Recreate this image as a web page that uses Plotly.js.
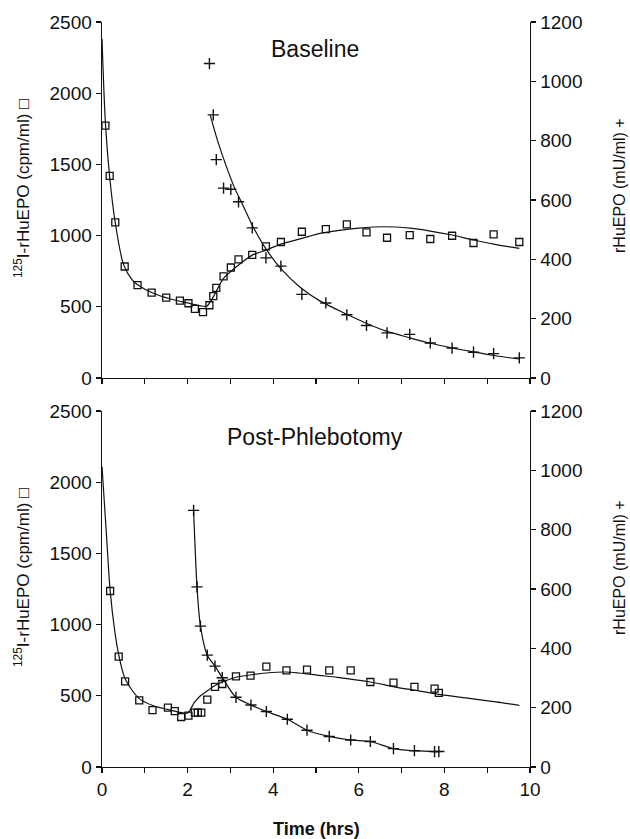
<!DOCTYPE html>
<html>
<head>
<meta charset="utf-8">
<script src="https://cdn.plot.ly/plotly-3.0.1.min.js"></script>
<style>html,body{margin:0;padding:0;background:#fff}#chart{width:630px;height:839px}</style>
</head>
<body>
<div id="chart"></div>
<script>
// ---------- Baseline panel ----------
const topSqT = [0.08,0.18,0.31,0.53,0.83,1.16,1.5,1.82,2.02,2.17,2.36,2.51,2.6,2.67,2.84,3.01,3.19,3.51,3.83,4.18,4.67,5.23,5.72,6.18,6.66,7.19,7.67,8.18,8.68,9.15,9.75];
const topSqV = [1772,1419,1093,783,652,600,565,544,525,485,462,511,575,633,713,776,833,865,924,955,1027,1046,1079,1023,985,1004,976,999,948,1009,955];
const topCrT = [2.51,2.6,2.67,2.84,3.01,3.19,3.51,3.83,4.18,4.67,5.23,5.72,6.18,6.66,7.19,7.67,8.18,8.68,9.15,9.75];
const topCrV = [1060,887,736,640,636,594,506,405,377,282,253,213,177,152,147,118,101,87,82,68];
const topSqFitT = [0,0.08,0.18,0.31,0.5,0.7,0.83,1.2,1.6,2.0,2.3,2.45,2.6,2.84,3.19,3.51,3.83,4.18,4.67,5.09,5.5,6.0,6.57,7.2,7.67,8.18,8.68,9.15,9.75];
const topSqFitV = [2380,1790,1410,1090,800,690,655,595,555,527,507,505,570,699,793,863,898,940,980,1016,1035,1052,1062,1052,1032,1004,969,940,910];
const topCrFitT = [2.53,2.7,2.9,3.1,3.3,3.51,3.83,4.2,4.62,5.09,5.72,6.2,6.66,7.2,7.67,8.2,8.68,9.2,9.75];
const topCrFitV = [885,800,715,640,580,515,435,365,307,260,215,183,157,135,117,101,88,75,64];

// ---------- Post-Phlebotomy panel ----------
const botSqT = [0.19,0.39,0.54,0.87,1.18,1.54,1.7,1.85,2.02,2.17,2.24,2.32,2.46,2.64,2.81,3.13,3.47,3.84,4.31,4.79,5.31,5.81,6.27,6.81,7.3,7.77,7.87];
const botSqV = [1236,775,602,468,400,417,393,351,361,382,382,382,473,562,583,637,642,705,679,684,679,679,597,593,562,550,520];
const botCrT = [2.14,2.22,2.3,2.46,2.64,2.81,3.13,3.48,3.84,4.33,4.79,5.31,5.81,6.27,6.81,7.3,7.77,7.87];
const botCrV = [865,607,475,377,340,301,235,209,187,161,124,103,91,86,62,55,52,52];
const botSqFitT = [0,0.1,0.19,0.3,0.39,0.54,0.87,1.2,1.6,2.0,2.15,2.3,2.46,2.64,2.81,3.13,3.5,3.84,4.3,4.6,5.06,5.5,6.27,6.8,7.3,7.87,8.5,9.2,9.75];
const botSqFitV = [2110,1650,1240,950,790,620,480,430,400,380,450,500,535,572,597,630,648,660,667,660,644,630,597,565,539,510,485,458,433];

// ---------- Axis ticks ----------
const timeMajor = [0,2,4,6,8,10];
const timeLabels = ['0','2','4','6','8','10'];
const leftTicks = [0,500,1000,1500,2000,2500];
const rightTicks = [0,200,400,600,800,1000,1200];

const FONT = 'Liberation Sans, Arial, sans-serif';
const sqMarker = {symbol:'square-open', size:7, color:'#111', line:{width:1.3, color:'#111'}};
const crMarker = {symbol:'cross-thin-open', size:8, color:'#111', line:{width:1.4, color:'#111'}};
const fitLine = {color:'#111', width:1.2, shape:'spline', smoothing:0.8};

const traces = [
  {x:topSqFitT, y:topSqFitV, xaxis:'x', yaxis:'y', mode:'lines', line:fitLine, hoverinfo:'skip'},
  {x:topCrFitT, y:topCrFitV, xaxis:'x', yaxis:'y2', mode:'lines', line:fitLine, hoverinfo:'skip'},
  {x:topSqT, y:topSqV, xaxis:'x', yaxis:'y', mode:'markers', marker:sqMarker, name:'125I-rHuEPO'},
  {x:topCrT, y:topCrV, xaxis:'x', yaxis:'y2', mode:'markers', marker:crMarker, name:'rHuEPO'},
  {x:botSqFitT, y:botSqFitV, xaxis:'x2', yaxis:'y3', mode:'lines', line:fitLine, hoverinfo:'skip'},
  {x:botSqT, y:botSqV, xaxis:'x2', yaxis:'y3', mode:'markers', marker:sqMarker, name:'125I-rHuEPO'},
  {x:botCrT, y:botCrV, xaxis:'x2', yaxis:'y4', mode:'lines+markers', line:fitLine, marker:crMarker, name:'rHuEPO'}
];

const W=630, H=839;
const px = v => v/W, py = v => 1 - v/H;
const xDom = [102/W, 530/W];
const topDom = [1-378/H, 1-22/H];
const botDom = [1-767/H, 1-411/H];

const tickFont = {family:FONT, size:19, color:'#111'};
const baseAx = {showgrid:false, zeroline:false, showline:true, linecolor:'#111', linewidth:1.4,
  ticks:'outside', ticklen:5, tickwidth:1.2, tickcolor:'#111', tickfont:tickFont};
const minorTicks = {ticks:'outside', dtick:1, tick0:0, ticklen:5, tickwidth:1.2, tickcolor:'#111', showgrid:false};

const layout = {
  width:W, height:H, margin:{l:0,r:0,t:0,b:0}, showlegend:false,
  paper_bgcolor:'#fff', plot_bgcolor:'#fff',
  xaxis: Object.assign({}, baseAx, {domain:xDom, anchor:'y', range:[0,10], tickmode:'array', tickvals:timeMajor, showticklabels:false, minor:minorTicks}),
  yaxis: Object.assign({}, baseAx, {domain:topDom, anchor:'x', range:[0,2500], tickmode:'array', tickvals:leftTicks}),
  yaxis2: Object.assign({}, baseAx, {overlaying:'y', anchor:'x', side:'right', range:[0,1200], tickmode:'array', tickvals:rightTicks}),
  xaxis2: Object.assign({}, baseAx, {domain:xDom, anchor:'y3', range:[0,10], tickmode:'array', tickvals:timeMajor, ticktext:timeLabels, minor:minorTicks}),
  yaxis3: Object.assign({}, baseAx, {domain:botDom, anchor:'x2', range:[0,2500], tickmode:'array', tickvals:leftTicks}),
  yaxis4: Object.assign({}, baseAx, {overlaying:'y3', anchor:'x2', side:'right', range:[0,1200], tickmode:'array', tickvals:rightTicks}),
  annotations: [
    {text:'Baseline', xref:'paper', yref:'paper', x:px(315), y:py(49), xanchor:'center', yanchor:'middle', showarrow:false, font:{family:FONT, size:23, color:'#111'}},
    {text:'Post-Phlebotomy', xref:'paper', yref:'paper', x:px(315), y:py(437), xanchor:'center', yanchor:'middle', showarrow:false, font:{family:FONT, size:23, color:'#111'}},
    {text:'<sup>125</sup>I-rHuEPO (cpm/ml) □', xref:'paper', yref:'paper', x:px(22), y:py(189), xanchor:'center', yanchor:'middle', textangle:-90, showarrow:false, font:{family:FONT, size:17, color:'#111'}},
    {text:'<sup>125</sup>I-rHuEPO (cpm/ml) □', xref:'paper', yref:'paper', x:px(22), y:py(578), xanchor:'center', yanchor:'middle', textangle:-90, showarrow:false, font:{family:FONT, size:17, color:'#111'}},
    {text:'rHuEPO (mU/ml) +', xref:'paper', yref:'paper', x:px(619), y:py(186), xanchor:'center', yanchor:'middle', textangle:-90, showarrow:false, font:{family:FONT, size:16, color:'#111'}},
    {text:'rHuEPO (mU/ml) +', xref:'paper', yref:'paper', x:px(619), y:py(568), xanchor:'center', yanchor:'middle', textangle:-90, showarrow:false, font:{family:FONT, size:16, color:'#111'}},
    {text:'<b>Time (hrs)</b>', xref:'paper', yref:'paper', x:px(316), y:py(829), xanchor:'center', yanchor:'middle', showarrow:false, font:{family:FONT, size:18, color:'#111'}}
  ]
};

Plotly.newPlot('chart', traces, layout, {staticPlot:true, displayModeBar:false});
</script>
</body>
</html>
